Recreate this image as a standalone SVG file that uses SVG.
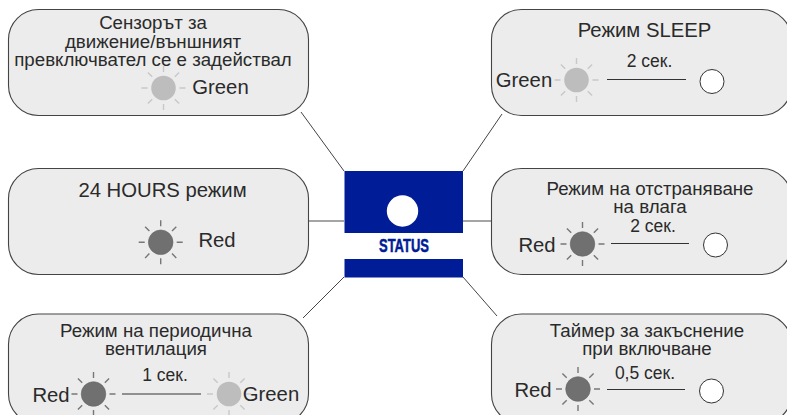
<svg xmlns="http://www.w3.org/2000/svg" width="787" height="415" viewBox="0 0 787 415">
<style>
text{font-family:"Liberation Sans",Arial,sans-serif;font-size:18.700px;fill:#2a2a2a;text-anchor:middle}
.box{fill:#ececec;stroke:#444;stroke-width:1.1}
.conn{stroke:#444;stroke-width:1;fill:none}
.g{stroke:#888;stroke-width:1.6}
.dash{stroke:#333;stroke-width:1.2}
.off{fill:#fff;stroke:#333;stroke-width:1}
.t{font-size:17.500px}
.l{font-size:20.300px}
</style>
<defs>
<g id="rays"><path d="M0-16V-22M0 16V22M-16 0H-22M16 0H22M-11.3-11.3L-15.6-15.6M11.3-11.3L15.6-15.6M-11.3 11.3L-15.6 15.6M11.3 11.3L15.6 15.6" fill="none" stroke-width="1.4"/></g>
<g id="sunR"><use href="#rays" stroke="#777"/><circle r="12.3" fill="#707070" stroke="#666" stroke-width=".6"/></g>
<g id="sunG"><use href="#rays" stroke="#c8c8c8"/><circle r="12.3" fill="#bdbdbd"/></g>
</defs>
<g id="connectors">
<path class="conn" d="M301 112L344 171M463 171L502 114M344 277L303 318M463 277L497 316"/>
<path class="conn g" d="M309 221H344M463 221H491"/>
</g>
<g id="status">
<rect x="344.500" y="171" width="118.500" height="106.500" fill="#001c96"/>
<rect x="344" y="233" width="119" height="26" fill="#fff"/>
<circle cx="402.500" cy="211" r="15.700" fill="#fff"/>
<text x="404" y="251.500" textLength="50" lengthAdjust="spacingAndGlyphs" style="font-size:18.500px;font-weight:bold;fill:#001c96;stroke:#001c96;stroke-width:.5">STATUS</text>
</g>
<g id="node-sensor">
<rect class="box" x="8.500" y="9.500" width="300" height="106" rx="30"/>
<text x="153" y="29">Сензорът за</text>
<text x="153" y="47.500">движение/външният</text>
<text x="153" y="66">превключвател се е задействал</text>
<use href="#sunG" x="163.500" y="88"/>
<text x="220.500" y="94" class="l">Green</text>
</g>
<g id="node-24h">
<rect class="box" x="8.500" y="168.500" width="300" height="106" rx="30"/>
<text x="162.500" y="197" class="l">24 HOURS режим</text>
<use href="#sunR" x="160.700" y="242.300"/>
<text x="217" y="247" class="l">Red</text>
</g>
<g id="node-vent">
<rect class="box" x="8.500" y="314" width="300" height="110" rx="30"/>
<text x="156" y="337">Режим на периодична</text>
<text x="156" y="355">вентилация</text>
<text x="165" y="381" class="t">1 сек.</text>
<use href="#sunR" x="93.500" y="394"/>
<text x="51" y="402" class="l">Red</text>
<line class="dash" x1="122" y1="394" x2="201" y2="394"/>
<use href="#sunG" x="229" y="394"/>
<text x="271" y="401" class="l">Green</text>
</g>
<g id="node-sleep">
<rect class="box" x="491.500" y="9.500" width="300" height="106" rx="30"/>
<text x="644.500" y="37" class="l">Режим SLEEP</text>
<use href="#sunG" x="576.500" y="80"/>
<text x="524" y="87" class="l">Green</text>
<text x="649.500" y="67" class="t">2 сек.</text>
<line class="dash" x1="607" y1="79.500" x2="686" y2="79.500"/>
<circle class="off" cx="712" cy="81.500" r="12"/>
</g>
<g id="node-moist">
<rect class="box" x="491.500" y="168.500" width="300" height="106" rx="30"/>
<text x="650" y="195">Режим на отстраняване</text>
<text x="650" y="213">на влага</text>
<text x="653" y="232" class="t">2 сек.</text>
<use href="#sunR" x="582.500" y="244"/>
<text x="537" y="252" class="l">Red</text>
<line class="dash" x1="611" y1="243.500" x2="689" y2="243.500"/>
<circle class="off" cx="715.500" cy="245" r="12"/>
</g>
<g id="node-timer">
<rect class="box" x="491.500" y="314" width="300" height="110" rx="30"/>
<text x="647" y="337">Таймер за закъснение</text>
<text x="647" y="355">при включване</text>
<text x="645" y="379" class="t">0,5 сек.</text>
<use href="#sunR" x="578" y="389"/>
<text x="533" y="397" class="l">Red</text>
<line class="dash" x1="607" y1="389.500" x2="685" y2="389.500"/>
<circle class="off" cx="711.500" cy="391" r="12"/>
</g>
</svg>
